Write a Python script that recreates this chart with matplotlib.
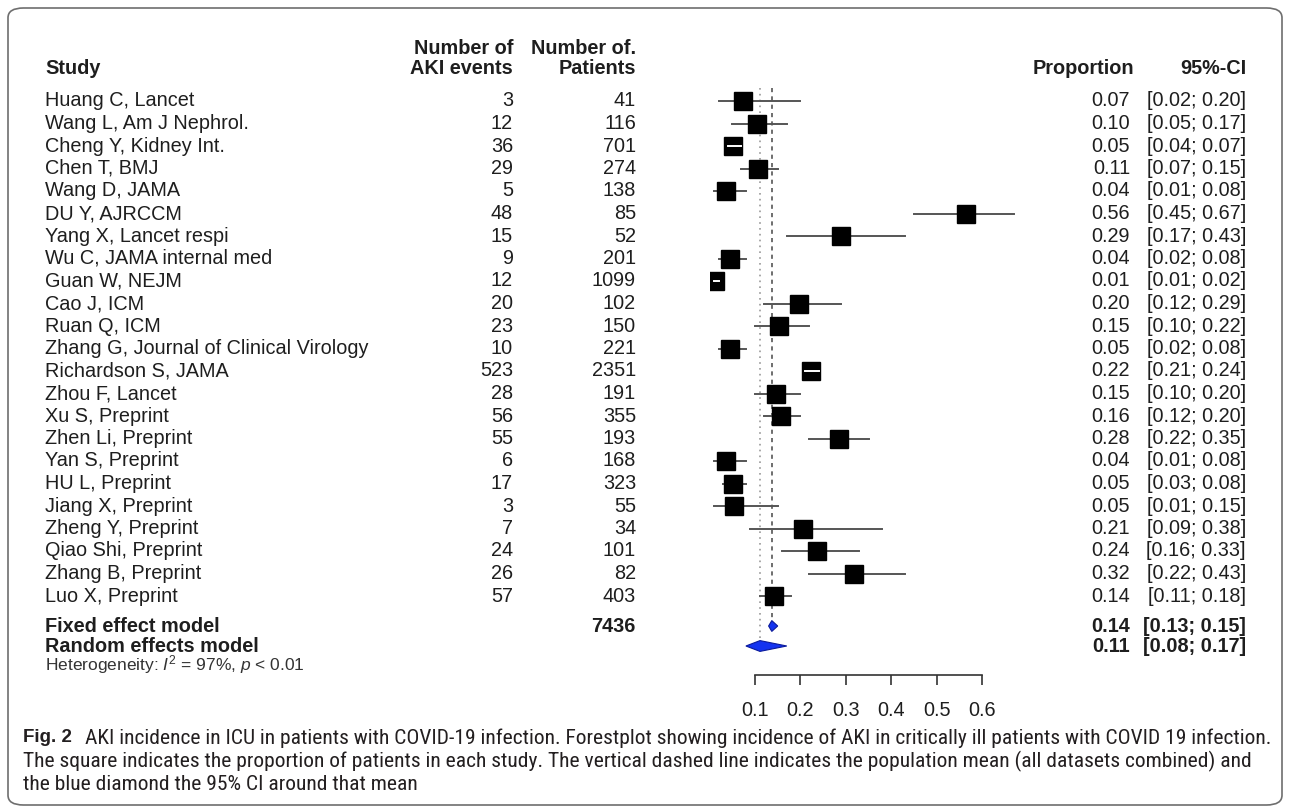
import matplotlib
matplotlib.use("Agg")
import matplotlib.pyplot as plt
from matplotlib import font_manager
from matplotlib.patches import FancyBboxPatch, Polygon, Rectangle
from matplotlib.transforms import blended_transform_factory

# data
studies = ["Huang C, Lancet", "Wang L, Am J Nephrol.", "Cheng Y, Kidney Int.", "Chen T, BMJ",
           "Wang D, JAMA", "DU Y, AJRCCM", "Yang X, Lancet respi", "Wu C, JAMA internal med",
           "Guan W, NEJM", "Cao J, ICM", "Ruan Q, ICM", "Zhang G, Journal of Clinical Virology",
           "Richardson S, JAMA", "Zhou F, Lancet", "Xu S, Preprint", "Zhen Li, Preprint",
           "Yan S, Preprint", "HU L, Preprint", "Jiang X, Preprint", "Zheng Y, Preprint",
           "Qiao Shi, Preprint", "Zhang B, Preprint", "Luo X, Preprint"]
events = [3, 12, 36, 29, 5, 48, 15, 9, 12, 20, 23, 10, 523, 28, 56, 55, 6, 17, 3, 7, 24, 26, 57]
patients = [41, 116, 701, 274, 138, 85, 52, 201, 1099, 102, 150, 221, 2351, 191, 355, 193,
            168, 323, 55, 34, 101, 82, 403]
prop = [0.07, 0.10, 0.05, 0.11, 0.04, 0.56, 0.29, 0.04, 0.01, 0.20, 0.15, 0.05, 0.22, 0.15,
        0.16, 0.28, 0.04, 0.05, 0.05, 0.21, 0.24, 0.32, 0.14]
lower = [0.02, 0.05, 0.04, 0.07, 0.01, 0.45, 0.17, 0.02, 0.01, 0.12, 0.10, 0.02, 0.21, 0.10,
         0.12, 0.22, 0.01, 0.03, 0.01, 0.09, 0.16, 0.22, 0.11]
upper = [0.20, 0.17, 0.07, 0.15, 0.08, 0.67, 0.43, 0.08, 0.02, 0.29, 0.22, 0.08, 0.24, 0.20,
         0.20, 0.35, 0.08, 0.08, 0.15, 0.38, 0.33, 0.43, 0.18]
total_patients = 7436
fixed = (0.137, 0.13, 0.15)    # estimate, lower, upper
random_ = (0.111, 0.08, 0.17)
xticks = [0.1, 0.2, 0.3, 0.4, 0.5, 0.6]

W, H = 1290, 810
fig = plt.figure(figsize=(W / 100, H / 100), dpi=100)
plt.rcParams['font.family'] = ['Liberation Sans', 'DejaVu Sans']
plt.rcParams['mathtext.fontset'] = 'custom'
plt.rcParams['mathtext.rm'] = 'Liberation Sans'
plt.rcParams['mathtext.it'] = 'Liberation Sans:italic'
txt = '#1e1e1e'
fs = 14.3

# page frame
fig.patches.append(FancyBboxPatch((8 / W, 5 / H), 1274 / W, 797 / H,
                                  boxstyle="round,pad=0,rounding_size=0.012",
                                  transform=fig.transFigure, fill=False,
                                  edgecolor='#6e6e6e', lw=1.2))

# forest axes: x maps 0 -> 709.6 px, 0.7 -> 1027.4 px; y in row units
px0, pxs = 709.6, 454.0
ax = fig.add_axes([px0 / W, (H - 675) / H, 0.7 * pxs / W, 635 / H])
ax.set_xlim(0, 0.7)
ytop = (40 - 101) / 22.5
ybot = (675 - 101) / 22.5
ax.set_ylim(ybot, ytop)
for s in ['top', 'right', 'left']:
    ax.spines[s].set_visible(False)
ax.spines['bottom'].set_bounds(0.1, 0.6)
ax.spines['bottom'].set_color('#333333')
ax.spines['bottom'].set_linewidth(1.2)
ax.set_yticks([])
ax.set_xticks(xticks)
ax.set_xticklabels([f"{t:.1f}" for t in xticks], fontsize=fs, color=txt)
ax.tick_params(axis='x', length=7, width=1.2, color='#333333', pad=12)
ax.patch.set_visible(False)

n = len(studies)
y_fixed = (626 - 101) / 22.5
y_random = (646 - 101) / 22.5
y_het = (665 - 101) / 22.5

# reference lines
ax.plot([random_[0]] * 2, [-0.6, y_random], ls=(0, (1, 2.5)), color='#999999', lw=1.2, zorder=1)
ax.plot([fixed[0]] * 2, [-0.6, y_fixed], ls=(0, (2.5, 2.5)), color='#555555', lw=1.2, zorder=1)

sq_w = 18 / pxs
sq_h = 18 / 22.5
for i in range(n):
    p = events[i] / patients[i]
    inside = lower[i] > p - sq_w / 2 and upper[i] < p + sq_w / 2
    ax.plot([lower[i], upper[i]], [i, i], color='#555555', lw=1.4, zorder=2)
    ax.add_patch(Rectangle((p - sq_w / 2, i - sq_h / 2), sq_w, sq_h, facecolor='black',
                           edgecolor='black', zorder=3))
    if inside:
        ax.plot([lower[i], upper[i]], [i, i], color='white', lw=1.4, zorder=4)

for (est, lo, hi), y in [(fixed, y_fixed), (random_, y_random)]:
    ax.add_patch(Polygon([(lo, y), (est, y - 0.24), (hi, y), (est, y + 0.24)], closed=True,
                         facecolor='#1433f0', edgecolor='#0b1a9a', lw=0.8, zorder=3))

# text columns (x in figure pixels, y in row units)
tr = blended_transform_factory(fig.transFigure, ax.transData)
def put(xpx, y, s, ha='left', **kw):
    kw.setdefault('fontsize', fs)
    kw.setdefault('color', txt)
    ax.text(xpx / W, y, s, transform=tr, ha=ha, va='center', clip_on=False, **kw)

y_h1 = (49 - 101) / 22.5
y_h2 = (68 - 101) / 22.5
put(45, y_h2, "Study", fontweight='bold')
put(513, y_h1, "Number of", ha='right', fontweight='bold')
put(513, y_h2, "AKI events", ha='right', fontweight='bold')
put(636, y_h1, "Number of.", ha='right', fontweight='bold')
put(636, y_h2, "Patients", ha='right', fontweight='bold')
put(1134, y_h2, "Proportion", ha='right', fontweight='bold')
put(1246, y_h2, "95%-CI", ha='right', fontweight='bold')

for i in range(n):
    put(45, i, studies[i])
    put(513, i, str(events[i]), ha='right')
    put(636, i, str(patients[i]), ha='right')
    put(1130, i, f"{prop[i]:.2f}", ha='right')
    put(1246, i, f"[{lower[i]:.2f}; {upper[i]:.2f}]", ha='right')

put(45, y_fixed, "Fixed effect model", fontweight='bold')
put(45, y_random, "Random effects model", fontweight='bold')
put(636, y_fixed, str(total_patients), ha='right', fontweight='bold')
for (est, lo, hi), y in [(fixed, y_fixed), (random_, y_random)]:
    put(1130, y, f"{est:.2f}", ha='right', fontweight='bold')
    put(1246, y, f"[{lo:.2f}; {hi:.2f}]", ha='right', fontweight='bold')
put(45, y_het, r"Heterogeneity: $I^2$ = 97%, $p$ < 0.01", fontsize=12.5, color='#333333')

# caption: pick a narrow face if one is installed, then fit the first line's width
names = {f.name for f in font_manager.fontManager.ttflist}
cap_face = next((c for c in ['Liberation Sans Narrow', 'Roboto Condensed', 'Open Sans Condensed',
                             'Noto Sans Condensed', 'Liberation Sans'] if c in names), 'DejaVu Sans')
cap = [
    "AKI incidence in ICU in patients with COVID-19 infection. Forestplot showing incidence of AKI in critically ill patients with COVID 19 infection.",
    "The square indicates the proportion of patients in each study. The vertical dashed line indicates the population mean (all datasets combined) and",
    "the blue diamond the 95% CI around that mean",
]
cap_col = '#231f20'
fig.text(23 / W, 1 - 738 / H, "Fig. 2", fontsize=13.5, fontweight='bold', color=cap_col,
         va='center')
t0 = fig.text(85 / W, 1 - 738 / H, cap[0], fontsize=13, color=cap_col, va='center',
              family=cap_face)
r = fig.canvas.get_renderer()
wpx = t0.get_window_extent(r).width
cfs = 13 * (1268 - 85) / wpx
t0.set_fontsize(cfs)
fig.text(23 / W, 1 - 761 / H, cap[1], fontsize=cfs, color=cap_col, va='center', family=cap_face)
fig.text(23 / W, 1 - 784 / H, cap[2], fontsize=cfs, color=cap_col, va='center', family=cap_face)

fig.savefig("out.png", dpi=100)
